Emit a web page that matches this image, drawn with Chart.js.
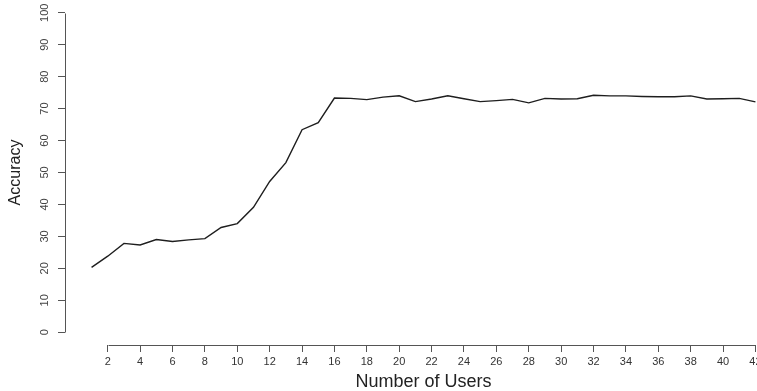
<!DOCTYPE html>
<html>
<head>
<meta charset="utf-8">
<script src="https://cdn.jsdelivr.net/npm/chart.js@4/dist/chart.umd.min.js"></script>
<style>
  html, body { margin: 0; padding: 0; background: #fff; overflow: hidden; }
  #wrap { position: relative; width: 757px; height: 391px; overflow: hidden; }
  #c { position: absolute; left: 0; top: 0; }
</style>
</head>
<body>
<div id="wrap"><canvas id="c" width="782" height="391"></canvas></div>
<script>
// Accuracy as the number of users grows
const users = [1, 2, 3, 4, 5, 6, 7, 8, 9, 10, 11, 12, 13, 14, 15, 16, 17, 18, 19, 20, 21,
               22, 23, 24, 25, 26, 27, 28, 29, 30, 31, 32, 33, 34, 35, 36, 37, 38, 39, 40, 41, 42];
const accuracy = [20.3, 23.8, 27.8, 27.3, 29.0, 28.4, 28.9, 29.3, 32.8, 34.0, 39.1, 47.2, 53.1, 63.4, 65.6,
                  73.3, 73.2, 72.8, 73.6, 74.0, 72.2, 73.0, 74.0, 73.1, 72.2, 72.5, 72.9, 71.8, 73.2, 73.0,
                  73.1, 74.2, 74.0, 74.0, 73.8, 73.7, 73.7, 74.0, 73.0, 73.1, 73.2, 72.1];
const xTicks = [2, 4, 6, 8, 10, 12, 14, 16, 18, 20, 22, 24, 26, 28, 30, 32, 34, 36, 38, 40, 42];
const yTicks = [0, 10, 20, 30, 40, 50, 60, 70, 80, 90, 100];

const axisColor = '#555';
const font = 'Liberation Sans, Arial, Helvetica, sans-serif';

// Axis lines that run from the first to the last tick only
const axisLines = {
  id: 'axisLines',
  afterDraw(chart) {
    const { ctx, chartArea, scales } = chart;
    ctx.save();
    ctx.strokeStyle = axisColor;
    ctx.lineWidth = 1;
    const xl = Math.round(chartArea.left) + 0.5;
    ctx.beginPath();
    ctx.moveTo(xl, Math.round(scales.y.getPixelForValue(yTicks[0])) + 0.5);
    ctx.lineTo(xl, Math.round(scales.y.getPixelForValue(yTicks[yTicks.length - 1])) + 0.5);
    ctx.stroke();
    const yb = Math.round(chartArea.bottom) + 0.5;
    ctx.beginPath();
    ctx.moveTo(Math.round(scales.x.getPixelForValue(xTicks[0])) + 0.5, yb);
    ctx.lineTo(Math.round(scales.x.getPixelForValue(xTicks[xTicks.length - 1])) + 0.5, yb);
    ctx.stroke();
    ctx.restore();
  }
};

new Chart(document.getElementById('c'), {
  type: 'line',
  data: {
    datasets: [{
      data: users.map((u, i) => ({ x: u, y: accuracy[i] })),
      borderColor: '#1e1e1e',
      borderWidth: 1.4,
      pointRadius: 0,
      tension: 0,
      fill: false
    }]
  },
  options: {
    responsive: false,
    animation: false,
    layout: { padding: 0 },
    plugins: { legend: { display: false }, tooltip: { enabled: false } },
    scales: {
      x: {
        type: 'linear',
        min: -0.64,
        max: 43.64,
        afterBuildTicks: s => { s.ticks = xTicks.map(v => ({ value: v })); },
        afterFit: s => { s.height = 46; s.paddingLeft = 0; s.paddingRight = 0; },
        border: { display: false },
        grid: { display: true, drawOnChartArea: false, drawTicks: true, tickLength: 7, color: axisColor, lineWidth: 1 },
        ticks: { color: '#333', font: { family: font, size: 11 }, padding: 3, maxRotation: 0, minRotation: 0, autoSkip: false },
        title: { display: true, text: 'Number of Users', color: '#222', font: { family: font, size: 18, lineHeight: 1 }, padding: { top: 0, bottom: 0 } }
      },
      y: {
        type: 'linear',
        min: -4,
        max: 104,
        afterBuildTicks: s => { s.ticks = yTicks.map(v => ({ value: v })); },
        afterFit: s => { s.width = 65; s.paddingTop = 0; s.paddingBottom = 0; },
        border: { display: false },
        grid: { display: true, drawOnChartArea: false, drawTicks: true, tickLength: 7, color: axisColor, lineWidth: 1 },
        ticks: { color: '#444', font: { family: font, size: 11 }, padding: 4, minRotation: 90, maxRotation: 90, crossAlign: 'center', autoSkip: false },
        title: { display: true, text: 'Accuracy', color: '#222', font: { family: font, size: 16 }, padding: { top: 6, bottom: 0 } }
      }
    }
  },
  plugins: [axisLines]
});
</script>
</body>
</html>
